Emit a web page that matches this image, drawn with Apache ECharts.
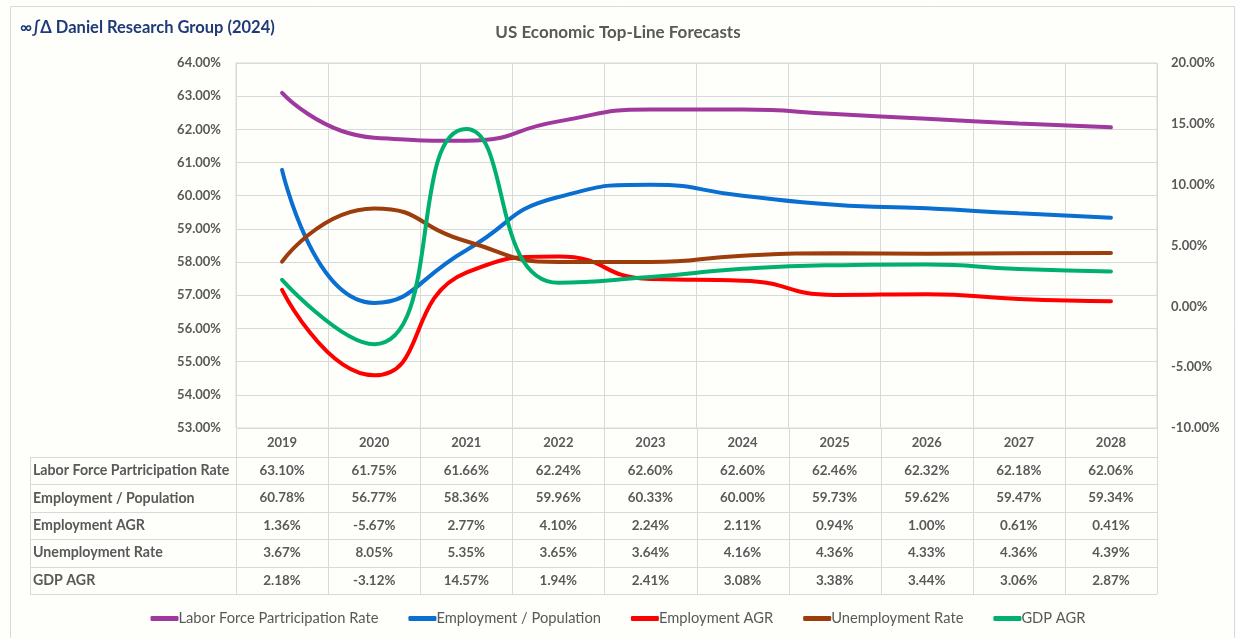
<!DOCTYPE html>
<html>
<head>
<meta charset="utf-8">
<title>US Economic Top-Line Forecasts</title>
<script src="https://cdn.jsdelivr.net/npm/echarts@6/dist/echarts.min.js"></script>
<style>
  html, body { margin: 0; padding: 0; background: #fefefb; }
  #chart { width: 1236px; height: 638px; }
</style>
</head>
<body>
<div id="chart"></div>
<script>
// data
const years = ['2019', '2020', '2021', '2022', '2023', '2024', '2025', '2026', '2027', '2028']
const laborForce = [63.10, 61.75, 61.66, 62.24, 62.60, 62.60, 62.46, 62.32, 62.18, 62.06]
const empPop = [60.78, 56.77, 58.36, 59.96, 60.33, 60.00, 59.73, 59.62, 59.47, 59.34]
const empAgr = [1.36, -5.67, 2.77, 4.10, 2.24, 2.11, 0.94, 1.00, 0.61, 0.41]
const unempRate = [3.67, 8.05, 5.35, 3.65, 3.64, 4.16, 4.36, 4.33, 4.36, 4.39]
const gdpAgr = [2.18, -3.12, 14.57, 1.94, 2.41, 3.08, 3.38, 3.44, 3.06, 2.87]
const leftTicks = { min: 53, max: 64, step: 1 }
const rightTicks = { min: -10, max: 20, step: 5 }

const rows = [
  { name: 'Labor Force Partricipation Rate', data: laborForce, color: '#a0399d', axis: 0 },
  { name: 'Employment / Population', data: empPop, color: '#0a6fd0', axis: 0 },
  { name: 'Employment AGR', data: empAgr, color: '#ff0000', axis: 1 },
  { name: 'Unemployment Rate', data: unempRate, color: '#9c3d0b', axis: 1 },
  { name: 'GDP AGR', data: gdpAgr, color: '#00b06e', axis: 1 }
]

const FONT = 'Lato'
const GRAY = '#595959'
const LINE = '#d9d9d9'
const gridBox = { left: 236, right: 79, top: 63, bottom: 210 }

let myChart = echarts.init(document.getElementById('chart'))

myChart.setOption({
  backgroundColor: '#fefefb',
  textStyle: { fontFamily: FONT },
  title: {
    text: 'US Economic Top-Line Forecasts',
    left: 'center',
    top: 19,
    textStyle: { fontFamily: FONT, fontSize: 17, fontWeight: 'bold', color: GRAY }
  },
  grid: {
    left: gridBox.left,
    right: gridBox.right,
    top: gridBox.top,
    bottom: gridBox.bottom,
    show: true,
    borderColor: LINE,
    borderWidth: 1
  },
  legend: {
    top: 606,
    left: 'center',
    icon: 'roundRect',
    itemWidth: 28,
    itemHeight: 5,
    itemGap: 30,
    textStyle: { fontFamily: FONT, fontSize: 14.7, color: GRAY, padding: [0, 0, 0, -5] },
    data: rows.map(r => r.name)
  },
  xAxis: {
    type: 'category',
    data: years,
    boundaryGap: true,
    axisLine: { show: false },
    axisTick: { show: false },
    splitLine: { show: true, lineStyle: { color: LINE } },
    axisLabel: { color: GRAY, fontFamily: FONT, fontSize: 13, fontWeight: 'bold', margin: 8 }
  },
  yAxis: [{
    type: 'value',
    min: leftTicks.min,
    max: leftTicks.max,
    interval: leftTicks.step,
    axisLine: { show: false },
    axisTick: { show: false },
    splitLine: { show: true, lineStyle: { color: LINE } },
    axisLabel: {
      color: GRAY, fontFamily: FONT, fontSize: 13, fontWeight: 'bold', margin: 15,
      formatter: v => v.toFixed(2) + '%'
    }
  }, {
    type: 'value',
    min: rightTicks.min,
    max: rightTicks.max,
    interval: rightTicks.step,
    axisLine: { show: false },
    axisTick: { show: false },
    splitLine: { show: false },
    axisLabel: {
      color: GRAY, fontFamily: FONT, fontSize: 13, fontWeight: 'bold', margin: 14,
      formatter: v => v.toFixed(2) + '%'
    }
  }],
  series: rows.map(r => ({
    name: r.name,
    type: 'line',
    yAxisIndex: r.axis,
    data: r.data,
    smooth: 0.55,
    symbol: 'none',
    color: r.color,
    lineStyle: { color: r.color, width: 4, cap: 'round' }
  }))
})

// data table under the plot, columns placed on the category axis
const tableTop = 457
const rowH = 27.4
const tableLeft = 30
const plotRight = 1236 - gridBox.right
const plotBottom = 638 - gridBox.bottom
const tableBottom = tableTop + rowH * rows.length

let graphic = []
// outer frame
graphic.push({
  type: 'rect', left: 8, top: 4, silent: true,
  shape: { width: 1224, height: 640 },
  style: { fill: 'none', stroke: LINE, lineWidth: 1 }
})
// brand text
graphic.push({
  type: 'text', left: 20, top: 19,
  style: { text: '∞∫Δ Daniel Research Group (2024)', fill: '#1f3a78', font: 'bold 16.5px ' + FONT }
})
// horizontal table lines
for (let i = 0; i <= rows.length; i++) {
  let y = Math.round(tableTop + rowH * i) + 0.5
  graphic.push({
    type: 'line', silent: true,
    shape: { x1: tableLeft, y1: y, x2: plotRight, y2: y },
    style: { stroke: LINE, lineWidth: 1 }
  })
}
// vertical table lines (continue the category split lines)
let step = (plotRight - gridBox.left) / years.length
for (let i = 0; i <= years.length; i++) {
  let x = Math.round(gridBox.left + step * i) + 0.5
  graphic.push({
    type: 'line', silent: true,
    shape: { x1: x, y1: plotBottom, x2: x, y2: tableBottom },
    style: { stroke: LINE, lineWidth: 1 }
  })
}
graphic.push({
  type: 'line', silent: true,
  shape: { x1: tableLeft + 0.5, y1: tableTop, x2: tableLeft + 0.5, y2: tableBottom },
  style: { stroke: LINE, lineWidth: 1 }
})
// row labels and values
rows.forEach((r, ri) => {
  let cy = tableTop + rowH * ri + rowH / 2
  graphic.push({
    type: 'text', x: tableLeft + 3, y: cy,
    style: { text: r.name, fill: GRAY, font: 'bold 14.2px ' + FONT, verticalAlign: 'middle', align: 'left' }
  })
  r.data.forEach((v, ci) => {
    let cx = myChart.convertToPixel({ xAxisIndex: 0 }, ci)
    graphic.push({
      type: 'text', x: cx, y: cy,
      style: { text: v.toFixed(2) + '%', fill: GRAY, font: 'bold 13.4px ' + FONT, verticalAlign: 'middle', align: 'center' }
    })
  })
})

myChart.setOption({ graphic: graphic })
</script>
</body>
</html>
